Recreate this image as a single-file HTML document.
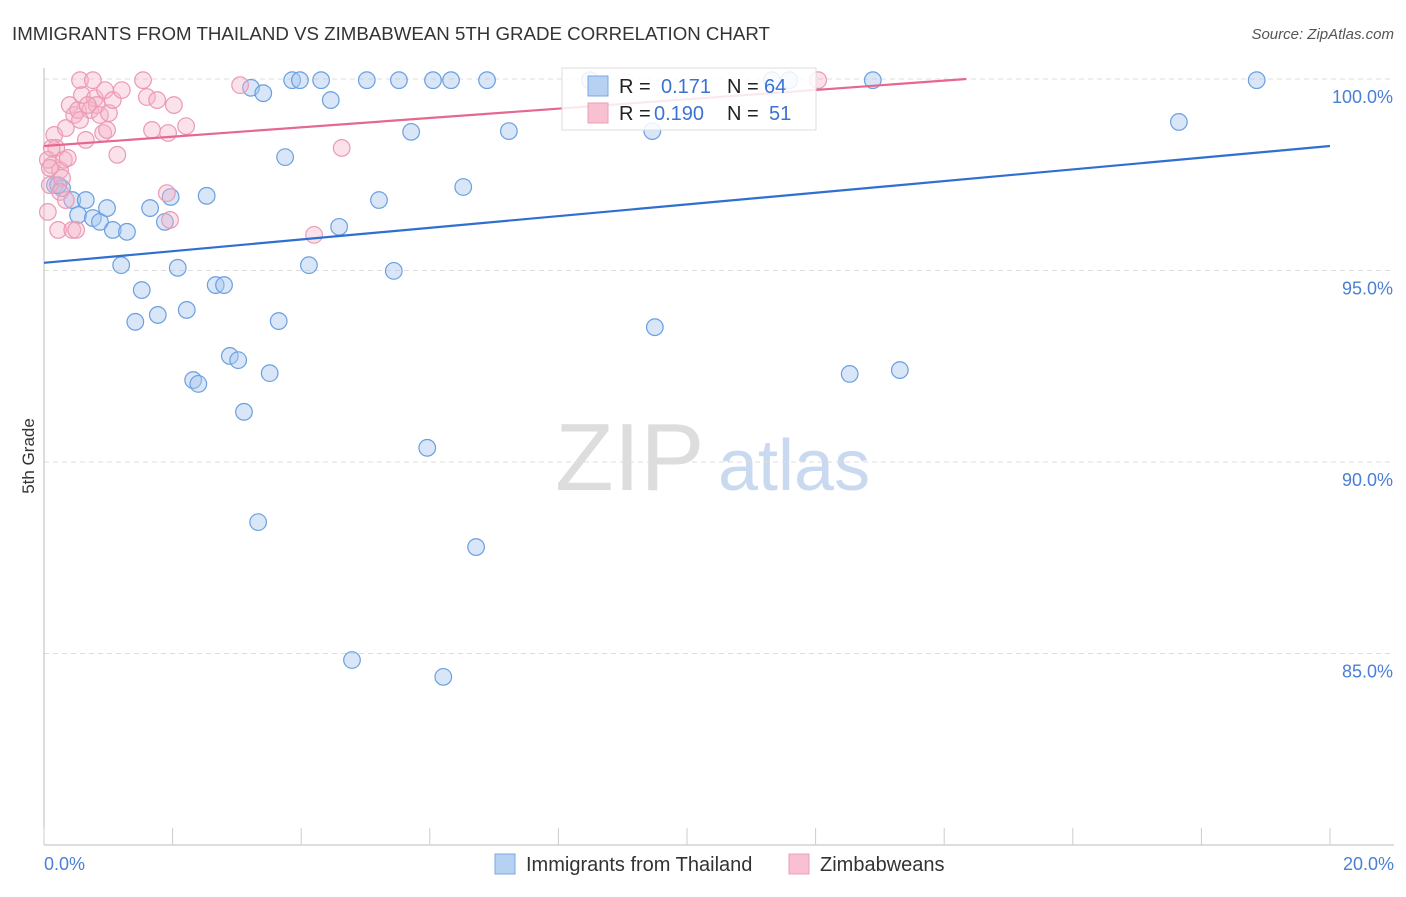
<!DOCTYPE html>
<html><head><meta charset="utf-8"><style>
body{margin:0;background:#fff;font-family:"Liberation Sans",sans-serif;}
svg text{font-family:"Liberation Sans",sans-serif;}
</style></head><body>
<svg id="chart" width="1406" height="892" xmlns="http://www.w3.org/2000/svg">
<text x="12" y="40" font-size="18.7" fill="#333">IMMIGRANTS FROM THAILAND VS ZIMBABWEAN 5TH GRADE CORRELATION CHART</text>
<text x="1394" y="39" font-size="15" fill="#555" font-style="italic" text-anchor="end">Source: ZipAtlas.com</text>
<text x="0" y="0" transform="translate(34,456) rotate(-90)" font-size="17" fill="#333" text-anchor="middle">5th Grade</text>
<text x="555" y="490" font-size="96" fill="#ddd" font-family="Liberation Serif">ZIP</text>
<text x="718" y="490" font-size="72" fill="#c9d9ef">atlas</text>
<g id="grid"></g><g id="axes"></g><g id="pts"></g><g id="lines"></g>
<g>
<rect x="562" y="68" width="254" height="62" fill="#fff" fill-opacity="0.85" stroke="#ddd"/>
<rect x="588" y="76" width="20" height="20" fill="#b7d1f3" stroke="#7ea8e0"/>
<rect x="588" y="103" width="20" height="20" fill="#f8c0d0" stroke="#eba0b8"/>
<text x="619" y="93" font-size="20" fill="#222">R = <tspan x="661" fill="#3b73d3">0.171</tspan><tspan x="727" fill="#222">N = </tspan><tspan x="764" fill="#3b73d3">64</tspan></text>
<text x="619" y="120" font-size="20" fill="#222">R = <tspan x="654" fill="#3b73d3">0.190</tspan><tspan x="727" fill="#222">N = </tspan><tspan x="769" fill="#3b73d3">51</tspan></text>
</g>
<g>
<rect x="495" y="854" width="20" height="20" fill="#b7d1f3" stroke="#7ea8e0"/>
<text x="526" y="871" font-size="20" fill="#333">Immigrants from Thailand</text>
<rect x="789" y="854" width="20" height="20" fill="#f8c0d0" stroke="#eba0b8"/>
<text x="820" y="871" font-size="20" fill="#333">Zimbabweans</text>
</g>
</svg>
<script>
const blueX=[0.17,0.28,0.44,0.53,0.65,0.76,0.87,0.98,1.07,1.20,1.29,1.42,1.52,1.65,1.77,1.88,1.97,2.08,2.22,2.32,2.40,2.53,2.67,2.80,2.89,3.02,3.11,3.22,3.33,3.41,3.51,3.65,3.75,3.86,3.98,4.12,4.31,4.46,4.59,4.79,5.02,5.21,5.44,5.52,5.71,5.96,6.05,6.21,6.33,6.52,6.72,6.89,7.23,8.49,9.46,9.50,11.32,11.59,12.53,12.89,13.31,17.65,18.86,0.22];
const blueY=[97.23,97.15,96.84,96.45,96.84,96.37,96.27,96.63,96.06,95.14,96.01,93.66,94.49,96.63,93.84,96.27,96.92,95.07,93.97,92.14,92.04,96.95,94.62,94.62,92.77,92.66,91.31,99.77,88.43,99.63,92.32,93.68,97.96,99.97,99.97,95.14,99.97,99.45,96.14,84.83,99.97,96.84,94.99,99.97,98.62,90.37,99.97,84.39,99.97,97.18,87.78,99.97,98.64,99.97,98.64,93.52,99.97,99.97,92.30,99.97,92.40,98.88,99.97,97.23];
const pinkX=[0.06,0.09,0.12,0.16,0.19,0.22,0.25,0.28,0.31,0.34,0.37,0.40,0.44,0.47,0.50,0.53,0.56,0.59,0.65,0.72,0.76,0.79,0.82,0.87,0.92,0.95,0.98,1.01,1.07,1.14,1.21,1.54,1.60,1.68,1.76,1.91,1.93,1.96,2.02,2.21,3.05,4.20,4.63,12.04,0.06,0.09,0.12,0.25,0.34,0.56,0.68];
const pinkY=[96.53,97.23,97.75,98.54,98.20,96.06,97.62,97.42,97.89,98.72,97.94,99.32,96.06,99.06,96.06,99.19,99.97,99.58,98.41,99.19,99.97,99.50,99.32,99.06,98.59,99.71,98.67,99.11,99.45,98.02,99.71,99.97,99.53,98.67,99.45,97.02,98.59,96.32,99.32,98.77,99.84,95.93,98.20,99.97,97.89,97.68,98.20,97.05,96.84,98.93,99.32];
const yTicks=[100,95,90,85];
const xTicks=[0,2,4,6,8,10,12,14,16,18,20];
const blueTrend=[95.2,98.25];
const pinkTrend=[98.25,0.122];
const NS="http://www.w3.org/2000/svg";
const X=v=>44+v*64.3, Y=v=>79+(100-v)*38.3;
function mk(t,a,p){const e=document.createElementNS(NS,t);for(const k in a)e.setAttribute(k,a[k]);p.appendChild(e);return e;}
const grid=document.getElementById('grid'),axes=document.getElementById('axes'),pts=document.getElementById('pts'),lines=document.getElementById('lines');
yTicks.forEach(t=>{
 const l=mk('line',{x1:44,x2:1394,y1:Y(t),y2:Y(t),stroke:'#ddd','stroke-dasharray':'5,4'},grid);
 
 
 const tx=mk('text',{x:1393,y:Y(t)+24,'font-size':18,fill:'#4a7fd6','text-anchor':'end'},grid);
 tx.textContent=t.toFixed(1)+'%';
 
 
});
const al=mk('line',{x1:44,x2:44,y1:68,y2:845,stroke:'#bbb'},axes);


const bl=mk('line',{x1:44,x2:1394,y1:845,y2:845,stroke:'#bbb'},axes);


xTicks.forEach(t=>{
 const l=mk('line',{x1:X(t),x2:X(t),y1:828,y2:845,stroke:'#ccc'},axes);
 
 
});
[[0,'start',44],[20,'end',1394]].forEach(([v,a,x])=>{
 const tx=mk('text',{x:x,y:870,'font-size':18,fill:'#4a7fd6','text-anchor':a},axes);
 tx.textContent=v.toFixed(1)+'%';
 
 
});
blueX.forEach((x,i)=>{
 const c=mk('circle',{cx:X(x),cy:Y(blueY[i]),r:8.3,fill:'#a9c8f0','fill-opacity':0.45,stroke:'#6b9fe0','stroke-width':1.2},pts);
 
 
});
pinkX.forEach((x,i)=>{
 const c=mk('circle',{cx:X(x),cy:Y(pinkY[i]),r:8.3,fill:'#f5b5c8','fill-opacity':0.4,stroke:'#eb9ab4','stroke-width':1.2},pts);
 
 
});
const b=mk('line',{x1:X(0),y1:Y(blueTrend[0]),x2:X(20),y2:Y(blueTrend[1]),stroke:'#2f6fd0','stroke-width':2.2},lines);


const pEnd=Math.min(20,(100-pinkTrend[0])/pinkTrend[1]);
const p=mk('line',{x1:X(0),y1:Y(pinkTrend[0]),x2:X(pEnd),y2:Y(pinkTrend[0]+pinkTrend[1]*pEnd),stroke:'#e5688f','stroke-width':2.2},lines);


</script>
</body></html>
